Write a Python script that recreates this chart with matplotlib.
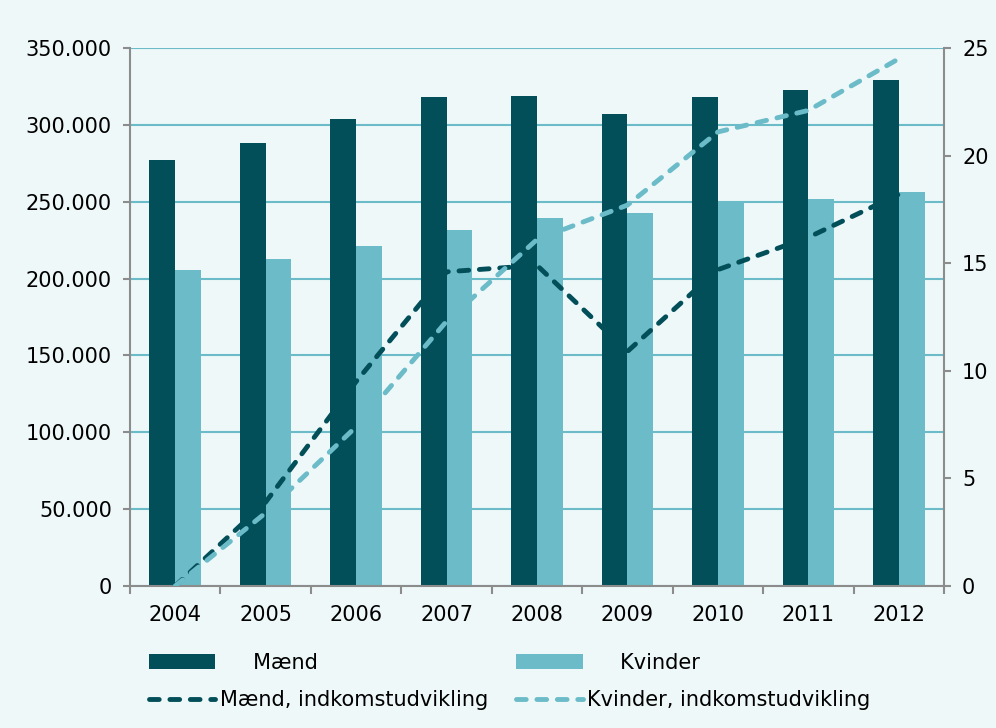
import matplotlib.pyplot as plt
import matplotlib.ticker as mticker
import numpy as np

years = ['2004', '2005', '2006', '2007', '2008', '2009', '2010', '2011', '2012']
maend = [277000, 288200, 303700, 317900, 318600, 307200, 318200, 322800, 329100]
kvinder = [205700, 212900, 221300, 231500, 239400, 242400, 249600, 251500, 256300]
maend_udv = [0, 3.9, 9.5, 14.6, 14.9, 10.9, 14.7, 16.2, 18.2]
kvinder_udv = [0, 3.4, 7.4, 12.3, 16.1, 17.7, 21.1, 22.1, 24.5]

dark = '#024f59'
light = '#6bbcc8'
bg = '#eef8f9'
grey = '#8c8c8c'

plt.rcParams['font.family'] = 'DejaVu Sans'
plt.rcParams['font.size'] = 15

fig = plt.figure(figsize=(9.96, 7.28), dpi=100, facecolor=bg)
ax = fig.add_axes([130 / 996, 1 - 586 / 728, (944 - 130) / 996, (586 - 48) / 728])
ax.set_facecolor(bg)

x = np.arange(len(years))
w = 0.285
b1 = ax.bar(x - w / 2, maend, w, color=dark, label='     Mænd', zorder=2)
b2 = ax.bar(x + w / 2, kvinder, w, color=light, label='     Kvinder', zorder=2)

ax.set_xlim(-0.5, len(years) - 0.5)
ax.set_ylim(0, 350000)
ax.set_yticks(np.arange(0, 350001, 50000))
ax.yaxis.set_major_formatter(mticker.FuncFormatter(lambda v, p: '{:,.0f}'.format(v).replace(',', '.')))
ax.grid(axis='y', color=light, linewidth=1.5, zorder=0)
ax.set_axisbelow(True)

ax.set_xticks(x)
ax.set_xticklabels(years)
ax.set_xticks(np.arange(-0.5, len(years)), minor=True)
ax.tick_params(axis='x', which='major', length=0, pad=14)
ax.tick_params(axis='x', which='minor', length=6, width=1.5, color=grey, direction='out')
ax.tick_params(axis='y', length=5, width=1.5, color=grey, pad=8)

for s in ['top', 'right']:
    ax.spines[s].set_visible(False)
for s in ['left', 'bottom']:
    ax.spines[s].set_color(grey)
    ax.spines[s].set_linewidth(1.5)

ax2 = ax.twinx()
ax2.set_ylim(0, 25)
ax2.set_yticks(np.arange(0, 26, 5))
ax2.tick_params(axis='y', length=5, width=1.5, color=grey, pad=8)
for s in ['top', 'left', 'bottom']:
    ax2.spines[s].set_visible(False)
ax2.spines['right'].set_color(grey)
ax2.spines['right'].set_linewidth(1.5)

dash = (0, (2.0, 2.2))
l1, = ax2.plot(x, maend_udv, color=dark, linewidth=3.5, linestyle=dash,
               dash_capstyle='round', label='Mænd, indkomstudvikling', zorder=3)
l2, = ax2.plot(x, kvinder_udv, color=light, linewidth=3.5, linestyle=dash,
               dash_capstyle='round', label='Kvinder, indkomstudvikling', zorder=3)

fig.legend(handles=[b1, l1, b2, l2], ncol=2, frameon=False,
           loc='upper left', bbox_to_anchor=(130 / 996, 1 - 634 / 728),
           handlelength=3.2, handletextpad=0.2, columnspacing=1.35,
           labelspacing=0.85, fontsize=15)

fig.savefig('out.png', dpi=100, facecolor=bg)
